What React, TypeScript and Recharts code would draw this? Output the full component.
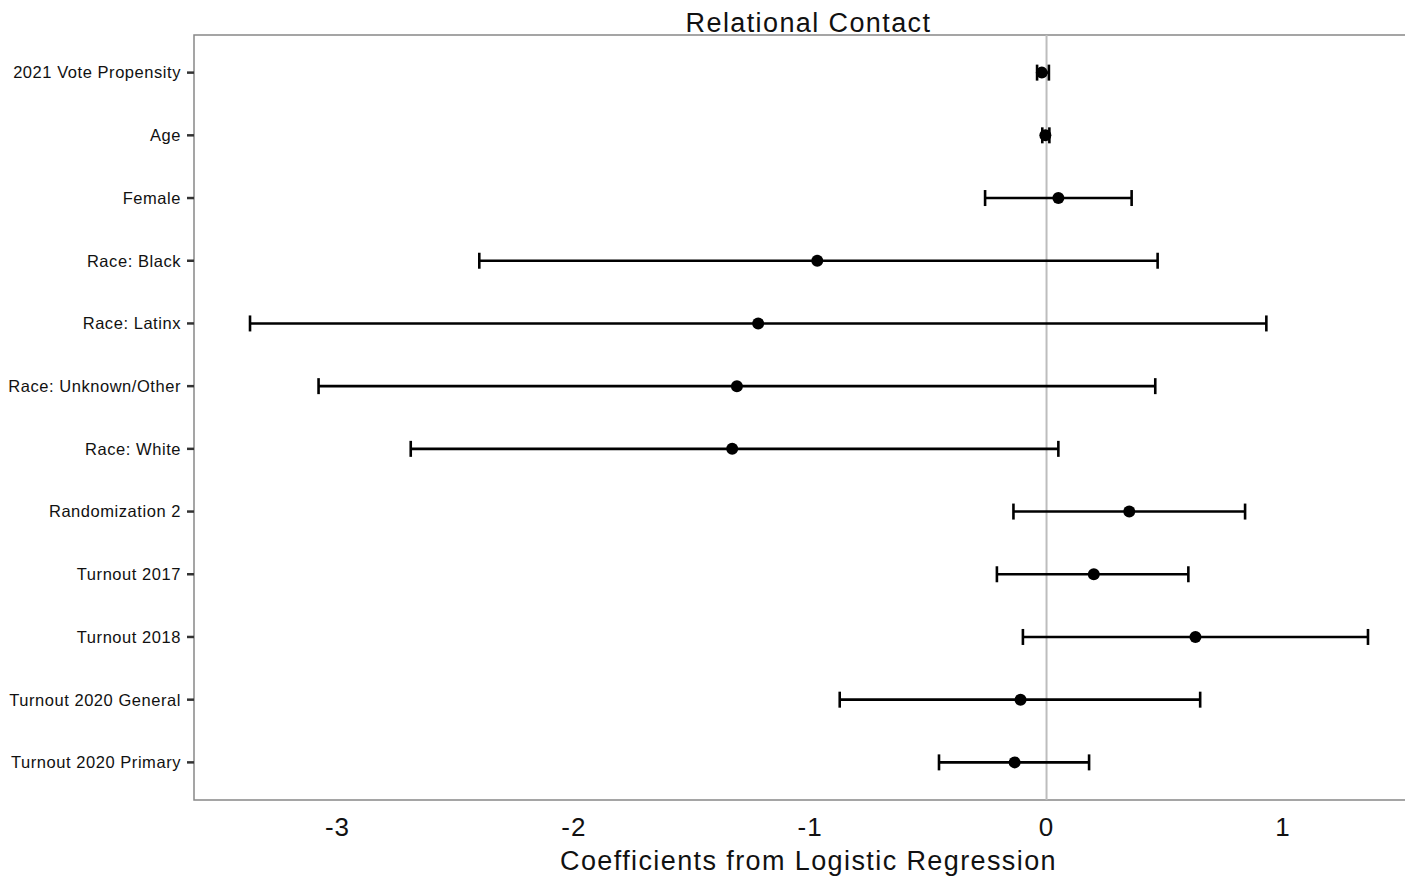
import {
  ScatterChart,
  Scatter,
  ErrorBar,
  XAxis,
  YAxis,
  ReferenceLine,
  ReferenceArea,
  Customized,
} from "recharts";

const labels = [
  "2021 Vote Propensity",
  "Age",
  "Female",
  "Race: Black",
  "Race: Latinx",
  "Race: Unknown/Other",
  "Race: White",
  "Randomization 2",
  "Turnout 2017",
  "Turnout 2018",
  "Turnout 2020 General",
  "Turnout 2020 Primary",
];

const estimates = [-0.02, -0.005, 0.05, -0.97, -1.22, -1.31, -1.33, 0.35, 0.2, 0.63, -0.11, -0.135];
const lower = [-0.04, -0.018, -0.26, -2.4, -3.37, -3.08, -2.69, -0.14, -0.21, -0.1, -0.875, -0.455];
const upper = [0.01, 0.012, 0.36, 0.47, 0.93, 0.46, 0.05, 0.84, 0.6, 1.36, 0.65, 0.18];

const xTicks = [-3, -2, -1, 0, 1];
const yTicks = labels.map((_, i) => i + 1);

const data = labels.map((name, i) => ({
  name,
  idx: i + 1,
  est: estimates[i],
  err: [estimates[i] - lower[i], upper[i] - estimates[i]],
}));

const FONT = "'Liberation Sans', Arial, sans-serif";
const X_MIN = -3.607;
const X_MAX = 1.597;

const Dot = (props: any) => <circle cx={props.cx} cy={props.cy} r={6} fill="#000" />;

export default function App() {
  return (
    <div
      style={{
        position: "absolute",
        left: 0,
        top: 0,
        width: 1405,
        height: 877,
        overflow: "hidden",
        background: "#fff",
      }}
    >
      <ScatterChart
        width={1430}
        height={877}
        margin={{ top: 35, right: 6, bottom: 0, left: 0 }}
        style={{ fontFamily: FONT }}
      >
        <XAxis
          type="number"
          dataKey="est"
          domain={[X_MIN, X_MAX]}
          allowDataOverflow
          ticks={xTicks}
          height={77}
          axisLine={false}
          tickLine={false}
          tickSize={0}
          tickMargin={18}
          tick={{ fill: "#111", fontSize: 26, fontFamily: FONT, letterSpacing: 1 }}
        />
        <YAxis
          type="number"
          dataKey="idx"
          domain={[0.4, 12.6]}
          reversed
          allowDataOverflow
          ticks={yTicks}
          interval={0}
          width={194}
          axisLine={false}
          tickSize={7}
          tickMargin={6}
          tickLine={{ stroke: "#333", strokeWidth: 2.5 }}
          tickFormatter={(v: number) => labels[v - 1] ?? ""}
          tick={{ fill: "#111", fontSize: 16.5, fontFamily: FONT, letterSpacing: 0.55 }}
        />
        <ReferenceArea
          x1={X_MIN}
          x2={X_MAX}
          y1={0.4}
          y2={12.6}
          fill="none"
          stroke="#888"
          strokeWidth={1.5}
          fillOpacity={0}
        />
        <ReferenceLine x={0} stroke="#bdbdbd" strokeWidth={2} />
        <Scatter data={data} shape={Dot} isAnimationActive={false}>
          <ErrorBar
            dataKey="err"
            direction="x"
            width={8}
            stroke="#000"
            strokeWidth={2.6}
            isAnimationActive={false}
          />
        </Scatter>
        <Customized
          component={() => (
            <g>
              <text
                x={808.5}
                y={32}
                textAnchor="middle"
                fontSize={27}
                fontFamily={FONT}
                letterSpacing={1.4}
                fill="#111"
              >
                Relational Contact
              </text>
              <text
                x={808.5}
                y={870}
                textAnchor="middle"
                fontSize={27}
                fontFamily={FONT}
                letterSpacing={1.4}
                fill="#111"
              >
                Coefficients from Logistic Regression
              </text>
            </g>
          )}
        />
      </ScatterChart>
    </div>
  );
}
